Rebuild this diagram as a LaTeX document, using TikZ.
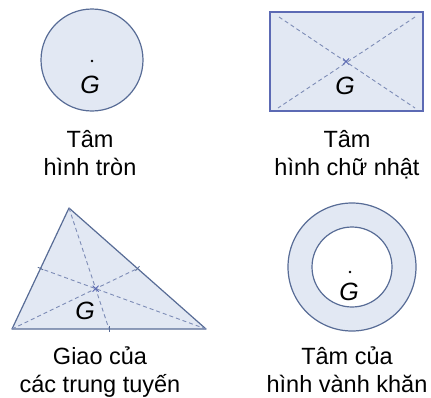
\documentclass[tikz,border=0pt]{standalone}
\usepackage{fontspec}
\setmainfont{Liberation Sans}
\usetikzlibrary{calc}
\definecolor{fillblue}{RGB}{226,232,243}
\definecolor{edgeblue}{RGB}{88,108,150}
\definecolor{rectblue}{RGB}{92,106,180}
\definecolor{dashblue}{RGB}{125,140,182}

\begin{document}
\begin{tikzpicture}[x=1pt, y=-1pt,
    figure/.style={draw=edgeblue, fill=fillblue, line width=1.2pt},
    median/.style={draw=dashblue, line width=0.9pt, dash pattern=on 4pt off 3pt},
    tick/.style={draw=edgeblue, line width=0.8pt},
    caption/.style={font=\fontsize{23.5}{28}\selectfont, align=center, anchor=base},
    glabel/.style={font=\fontsize{25}{28}\selectfont\itshape, inner sep=0pt}]
\useasboundingbox (0,0) rectangle (431,397);

% hinh tron
\coordinate (O1) at (92,60);
\draw[figure] (O1) circle[radius=51];
\fill (92,61) circle[radius=1.3];
\node[glabel] (g1) at (90,85) {G};
\node[caption] (cap1) at (90,175) {Tâm\\hình tròn};

% hinh chu nhat
\coordinate (r1) at (270,12);
\coordinate (r2) at (423,12);
\coordinate (r3) at (423,111);
\coordinate (r4) at (270,111);
\draw[figure, draw=rectblue] (r1) rectangle (r3);
\draw[median] ($(r1)+(9,5)$) -- ($(r3)+(-8,-3)$);
\draw[median] ($(r2)+(-8,5)$) -- ($(r4)+(8,-3)$);
\coordinate (g2c) at (346,61.5);
\draw[rectblue, line width=0.9pt] ($(g2c)+(-3,-3)$) -- ($(g2c)+(3,3)$)
    ($(g2c)+(-3,3)$) -- ($(g2c)+(3,-3)$);
\node[glabel] (g2) at (345,86) {G};
\node[caption] (cap2) at (347,175) {Tâm\\hình chữ nhật};

% tam giac
\coordinate (A) at (69,208);
\coordinate (B) at (12,329);
\coordinate (C) at (206,329);
\coordinate (mBC) at ($(B)!0.5!(C)$);
\coordinate (mCA) at ($(C)!0.5!(A)$);
\coordinate (mAB) at ($(A)!0.5!(B)$);
\coordinate (G3) at ($(A)!2/3!(mBC)$);
\draw[figure, line join=round] (A) -- (B) -- (C) -- cycle;
\draw[median] (A) -- (mBC);
\draw[median] (B) -- (mCA);
\draw[median] (C) -- (mAB);
\draw[tick] ($(mBC)!3pt!90:(C)$) -- ($(mBC)!3pt!-90:(C)$);
\draw[tick] ($(mCA)!3pt!90:(A)$) -- ($(mCA)!3pt!-90:(A)$);
\draw[tick] ($(mAB)!3pt!90:(B)$) -- ($(mAB)!3pt!-90:(B)$);
\draw[rectblue, line width=0.9pt] ($(G3)+(-3,-3)$) -- ($(G3)+(3,3)$)
    ($(G3)+(-3,3)$) -- ($(G3)+(3,-3)$);
\node[glabel] (g3) at (85,311) {G};
\node[caption] (cap3) at (100,392) {Giao của\\các trung tuyến};

% hinh vanh khan
\coordinate (O4) at (352,267);
\draw[figure, even odd rule] (O4) circle[radius=64] (O4) circle[radius=40];
\fill (350,272) circle[radius=1.3];
\node[glabel] (g4) at (349,292) {G};
\node[caption] (cap4) at (347,392) {Tâm của\\hình vành khăn};
\end{tikzpicture}
\end{document}
